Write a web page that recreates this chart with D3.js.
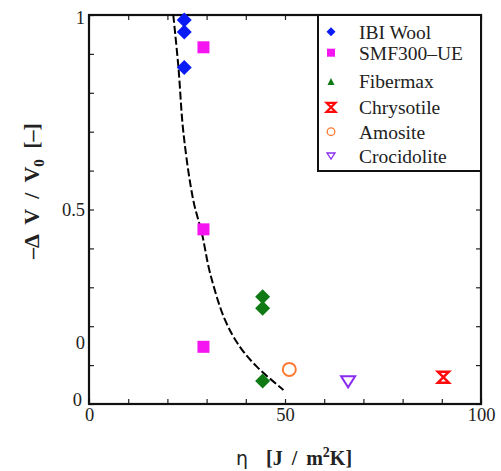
<!DOCTYPE html>
<html><head><meta charset="utf-8">
<script src="https://cdn.jsdelivr.net/npm/d3@7"></script>
<style>
body{margin:0;background:#fff;}
svg{display:block;}
.tl text{font-family:"Liberation Serif","Times New Roman",serif;font-size:18.5px;fill:#222;}
</style></head>
<body>
<svg id="c" width="501" height="471"></svg>
<script>
// ---- data ----
const ibiX = [24.3, 24.3, 24.3];
const ibiY = [0.987, 0.956, 0.865];
const smfX = [29.2, 29.2, 29.2];
const smfY = [0.917, 0.449, 0.147];
const fiberX = [44.3, 44.3, 44.3];
const fiberY = [0.276, 0.246, 0.059];
const chrysX = [90.4];
const chrysY = [0.069];
const amosX = [51.1];
const amosY = [0.089];
const crocX = [66.1];
const crocY = [0.057];
const curveX = [21.5, 22.8, 24.1, 26.6, 28.8, 30.9, 34.7, 38.5, 42.8, 49.6];
const curveY = [1.0, 0.867, 0.696, 0.524, 0.439, 0.336, 0.216, 0.147, 0.096, 0.036];
const xTickLabels = [0, 50, 100];
const yTickValues = [1, 0.5, 0.157, 0];
const yTickLabels = ["1", "0.5", "0", "0"];
const legendNames = ["IBI Wool", "SMF300\u2013UE", "Fibermax", "Chrysotile", "Amosite", "Crocidolite"];

const svg = d3.select("#c");
const x = d3.scaleLinear().domain([0, 100]).range([89, 481]);
const y = d3.scaleLinear().domain([0, 1]).range([404, 15]);

// minor inward ticks
const minorX = d3.range(0, 101, 10);
const minorY = d3.range(0, 1.001, 0.1);
svg.append("g").attr("transform", `translate(0,${y(0)})`)
  .call(d3.axisBottom(x).tickValues(minorX).tickSize(-5).tickFormat(""))
  .call(g => g.select(".domain").remove())
  .selectAll("line").attr("stroke", "#222").attr("stroke-width", 1.2);
svg.append("g").attr("transform", `translate(0,${y(1)})`)
  .call(d3.axisTop(x).tickValues(minorX).tickSize(-5).tickFormat(""))
  .call(g => g.select(".domain").remove())
  .selectAll("line").attr("stroke", "#222").attr("stroke-width", 1.2);
svg.append("g").attr("transform", `translate(${x(0)},0)`)
  .call(d3.axisLeft(y).tickValues(minorY).tickSize(-5).tickFormat(""))
  .call(g => g.select(".domain").remove())
  .selectAll("line").attr("stroke", "#222").attr("stroke-width", 1.2);
svg.append("g").attr("transform", `translate(${x(100)},0)`)
  .call(d3.axisRight(y).tickValues(minorY).tickSize(-5).tickFormat(""))
  .call(g => g.select(".domain").remove())
  .selectAll("line").attr("stroke", "#222").attr("stroke-width", 1.2);

// labels
svg.append("g").attr("class", "tl").attr("transform", `translate(0,${y(0) + 2})`)
  .call(d3.axisBottom(x).tickValues(xTickLabels).tickSize(0).tickPadding(2).tickFormat(d3.format("d")))
  .call(g => g.select(".domain").remove());
const yl = svg.append("g").attr("class", "tl").attr("transform", `translate(${x(0) - 4},0)`)
  .call(d3.axisLeft(y).tickValues(yTickValues).tickSize(0).tickPadding(0).tickFormat((d, i) => yTickLabels[i]))
  .call(g => g.select(".domain").remove());
yl.selectAll(".tick").filter(d => d === 0).select("text").attr("dy", "0.1em").attr("dx", "-3");
yl.selectAll(".tick").filter(d => d === 1).select("text").attr("dy", "0.45em");

// frame
svg.append("rect").attr("x", x(0)).attr("y", y(1)).attr("width", x(100) - x(0)).attr("height", y(0) - y(1))
  .attr("fill", "none").attr("stroke", "#111").attr("stroke-width", 2.2);

// legend box
svg.append("rect").attr("x", 318).attr("y", y(1)).attr("width", x(100) - 318).attr("height", 156)
  .attr("fill", "#fff").attr("stroke", "#111").attr("stroke-width", 2);

// curve
const line = d3.line().x(d => x(d[0])).y(d => y(d[1])).curve(d3.curveCatmullRom);
svg.append("path").datum(d3.zip(curveX, curveY)).attr("d", line)
  .attr("fill", "none").attr("stroke", "#000").attr("stroke-width", 2).attr("stroke-dasharray", "8,3");

// marker helpers
function diamond(g, cx, cy, r, color) {
  g.append("path").attr("d", `M${cx},${cy - r}L${cx + r},${cy}L${cx},${cy + r}L${cx - r},${cy}Z`).attr("fill", color);
}
function square(g, cx, cy, s, color) {
  g.append("rect").attr("x", cx - s / 2).attr("y", cy - s / 2).attr("width", s).attr("height", s).attr("fill", color);
}
function triUp(g, cx, cy, s, color) {
  g.append("path").attr("d", `M${cx},${cy - s / 2}L${cx + s / 2},${cy + s / 2}L${cx - s / 2},${cy + s / 2}Z`).attr("fill", color);
}
function triDown(g, cx, cy, w, h, color, sw) {
  g.append("path").attr("d", `M${cx - w / 2},${cy - h / 2}L${cx + w / 2},${cy - h / 2}L${cx},${cy + h / 2}Z`)
    .attr("fill", "none").attr("stroke", color).attr("stroke-width", sw);
}
function hourglass(g, cx, cy, w, h, color, sw) {
  g.append("path").attr("d", `M${cx - w / 2},${cy - h / 2}L${cx + w / 2},${cy - h / 2}L${cx - w / 2},${cy + h / 2}L${cx + w / 2},${cy + h / 2}Z`)
    .attr("fill", "none").attr("stroke", color).attr("stroke-width", sw).attr("stroke-linejoin", "miter");
}
function circle(g, cx, cy, r, color, sw) {
  g.append("circle").attr("cx", cx).attr("cy", cy).attr("r", r).attr("fill", "none").attr("stroke", color).attr("stroke-width", sw);
}

const pts = svg.append("g");
const BLUE = "#0a1cf5", MAG = "#f515f0", GREEN = "#0f7a14", RED = "#ff0a0a", ORANGE = "#ff7a33", PURPLE = "#8a2cf0";
ibiX.forEach((v, i) => diamond(pts, x(v), y(ibiY[i]), 7.5, BLUE));
smfX.forEach((v, i) => square(pts, x(v), y(smfY[i]), 12, MAG));
fiberX.forEach((v, i) => diamond(pts, x(v), y(fiberY[i]), 7.5, GREEN));
chrysX.forEach((v, i) => hourglass(pts, x(v), y(chrysY[i]), 11, 11, RED, 2.5));
amosX.forEach((v, i) => circle(pts, x(v), y(amosY[i]), 6.5, ORANGE, 2));
crocX.forEach((v, i) => triDown(pts, x(v), y(crocY[i]), 14, 11, PURPLE, 2));

// legend entries
const legY = [31.7, 52.7, 81, 107.3, 131.7, 156];
const lg = svg.append("g");
const mx = 331;
diamond(lg, mx, legY[0], 4.5, BLUE);
square(lg, mx, legY[1], 8, MAG);
triUp(lg, mx, legY[2] + 0.5, 7, GREEN);
hourglass(lg, mx, legY[3], 9, 9, RED, 2.2);
circle(lg, mx, legY[4], 3.8, ORANGE, 1.3);
triDown(lg, mx, legY[5], 8, 6, PURPLE, 1.3);
lg.selectAll("text.leg").data(legendNames).join("text").attr("class", "leg")
  .attr("x", 359).attr("y", (d, i) => legY[i]).attr("dy", "0.35em")
  .attr("font-family", "Liberation Serif, Times New Roman, serif").attr("font-size", 19.5).attr("fill", "#222")
  .text(d => d);

// axis titles
const xt = svg.append("text").attr("x", 294).attr("y", 465).attr("text-anchor", "middle")
  .attr("font-family", "Liberation Serif, Times New Roman, serif").attr("font-size", 20).attr("font-weight", "bold")
  .attr("fill", "#222").attr("word-spacing", 4);
xt.append("tspan").attr("font-family", "DejaVu Sans, sans-serif").attr("font-weight", "normal").attr("font-size", 19).text("\u03b7");
xt.append("tspan").text("\u00a0\u00a0[J / m");
xt.append("tspan").attr("dy", -8).attr("font-size", 14).text("2");
xt.append("tspan").attr("dy", 8).text("K]");

const ytl = svg.append("text").attr("transform", "translate(39,191) rotate(-90)").attr("text-anchor", "middle")
  .attr("font-family", "Liberation Serif, Times New Roman, serif").attr("font-size", 22).attr("font-weight", "bold")
  .attr("fill", "#222").attr("word-spacing", 5);
ytl.append("tspan").text("\u2013\u0394 V / V");
ytl.append("tspan").attr("dy", 5).attr("font-size", 15).text("0");
ytl.append("tspan").attr("dy", -5).text(" [\u2013]");
</script>
</body></html>
